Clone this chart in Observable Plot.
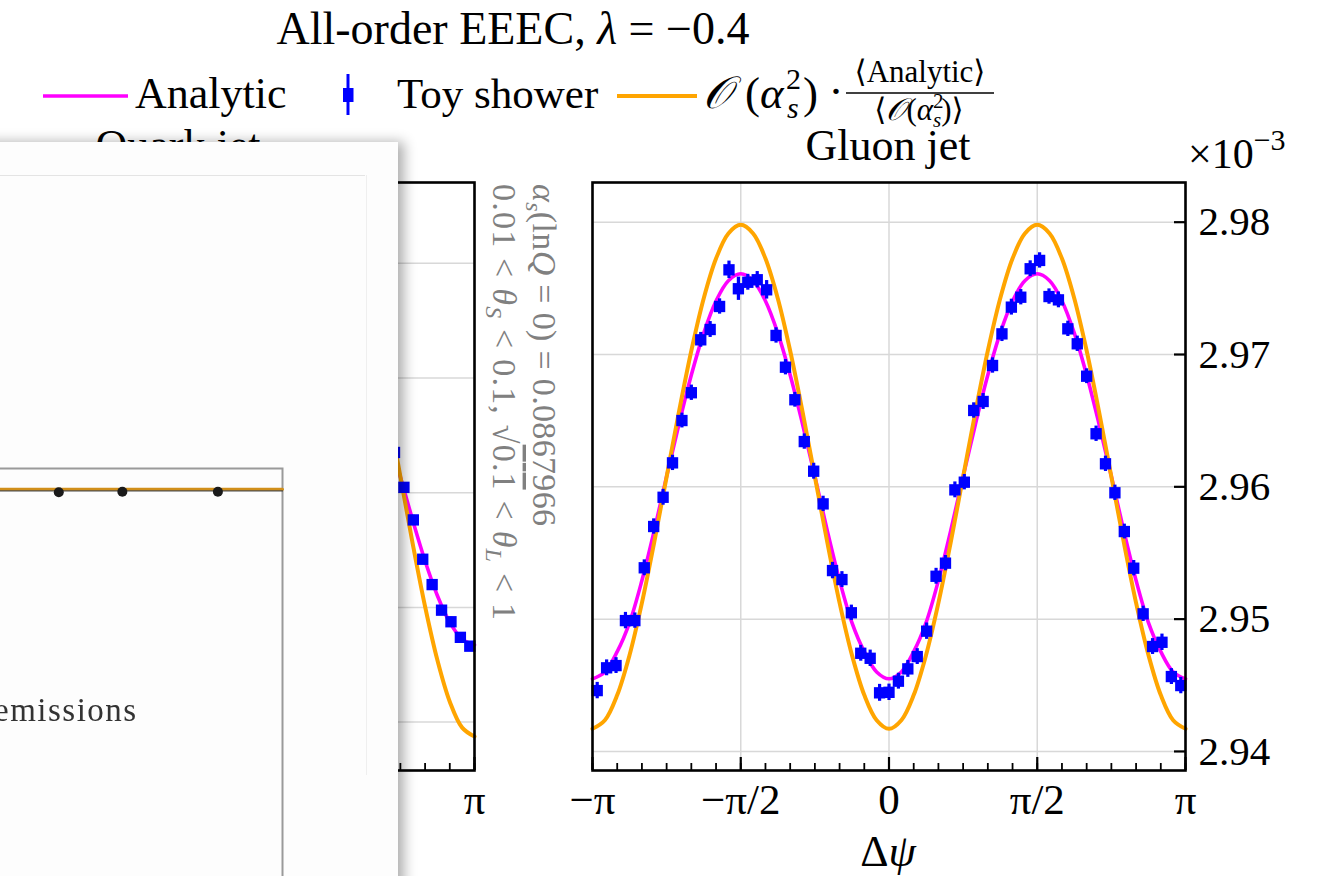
<!DOCTYPE html>
<html>
<head>
<meta charset="utf-8">
<script src="https://cdn.jsdelivr.net/npm/d3@7"></script>
<script src="https://cdn.jsdelivr.net/npm/@observablehq/plot@0.6"></script>
<style>
  html, body { margin: 0; padding: 0; background: #ffffff; }
  #root { position: relative; width: 1331px; height: 876px; overflow: hidden; background: #ffffff; }
  .panel { position: absolute; }
  .panel svg { overflow: visible; }
  #overlay { position: absolute; left: 0; top: 0; font-family: "Liberation Serif", "DejaVu Serif", "Times New Roman", serif; }
  #card { position: absolute; left: -40px; top: 142px; width: 438px; height: 780px;
          background: #fdfdfd; box-shadow: 6px 0 12px rgba(0,0,0,0.32); }
  #cardInner { position: absolute; left: 40px; top: -142px; width: 398px; height: 876px; filter: blur(0.7px); }
</style>
</head>
<body>
<div id="root">
  <div id="quark" class="panel"></div>
  <div id="gluon" class="panel"></div>
  <svg id="overlay" width="1331" height="876" fill="#000"></svg>
  <div id="card"><div id="cardInner"></div></div>
</div>
<script>
const PI = Math.PI;

// Δψ binning of the toy-shower histograms
const nBins = 63;
const binCenter = i => -PI + (i + 0.5) * 2 * PI / nBins;

// Gluon jet, toy shower (units of 1e-3), one value per bin
const gluonToyY = [2.94460, 2.94632, 2.94649, 2.94989, 2.94989, 2.95388, 2.95700, 2.95921, 2.96181, 2.96501,
  2.96711, 2.97111, 2.97189, 2.97363, 2.97640, 2.97497, 2.97546, 2.97565, 2.97489, 2.97144,
  2.96904, 2.96658, 2.96342, 2.96118, 2.95871, 2.95367, 2.95299, 2.95048, 2.94742, 2.94704,
  2.94443, 2.94447, 2.94531, 2.94624, 2.94717, 2.94909, 2.95324, 2.95423, 2.95977, 2.96035,
  2.96577, 2.96645, 2.96917, 2.97156, 2.97358, 2.97433, 2.97648, 2.97711, 2.97438, 2.97413,
  2.97194, 2.97081, 2.96836, 2.96401, 2.96174, 2.95955, 2.95662, 2.95385, 2.95040, 2.94793,
  2.94825, 2.94566, 2.94498];
const gluonToyErr = [0.00062, 0.00060, 0.00060, 0.00062, 0.00058, 0.00060, 0.00058, 0.00060, 0.00058, 0.00056,
  0.00058, 0.00056, 0.00060, 0.00058, 0.00066, 0.00088, 0.00060, 0.00062, 0.00070, 0.00058,
  0.00058, 0.00056, 0.00058, 0.00060, 0.00058, 0.00062, 0.00060, 0.00058, 0.00060, 0.00062,
  0.00064, 0.00062, 0.00060, 0.00064, 0.00060, 0.00062, 0.00060, 0.00058, 0.00060, 0.00058,
  0.00058, 0.00060, 0.00058, 0.00058, 0.00060, 0.00058, 0.00060, 0.00058, 0.00058, 0.00060,
  0.00058, 0.00058, 0.00056, 0.00058, 0.00058, 0.00058, 0.00056, 0.00058, 0.00058, 0.00060,
  0.00062, 0.00060, 0.00062];

// Quark jet, toy shower (units of 1e-3), last bins before Δψ = π
const quarkToyBins = [54, 55, 56, 57, 58, 59, 60, 61, 62];
const quarkToyY = [2.19351, 2.19047, 2.18763, 2.18420, 2.18199, 2.17976, 2.17875, 2.17739, 2.17662];
const quarkToyErr = [0.00040, 0.00040, 0.00040, 0.00040, 0.00040, 0.00040, 0.00040, 0.00040, 0.00040];

// Smooth curves sampled every π/24 from −π to π
const curveSteps = 48;
const gluonAnalytic = [2.94549, 2.94601, 2.94754, 2.94974, 2.95292, 2.95670, 2.96079, 2.96475, 2.96845, 2.97162, 2.97405, 2.97558, 2.97610,
  2.97558, 2.97405, 2.97162, 2.96845, 2.96475, 2.96079, 2.95670, 2.95292, 2.94974, 2.94754, 2.94601, 2.94549,
  2.94601, 2.94754, 2.94974, 2.95292, 2.95670, 2.96079, 2.96475, 2.96845, 2.97162, 2.97405, 2.97558, 2.97610,
  2.97558, 2.97405, 2.97162, 2.96845, 2.96475, 2.96079, 2.95670, 2.95292, 2.94974, 2.94754, 2.94601, 2.94549];
const gluonScaled = [2.94171, 2.94236, 2.94426, 2.94729, 2.95123, 2.95583, 2.96076, 2.96568, 2.97028, 2.97423, 2.97725, 2.97915, 2.97980,
  2.97915, 2.97725, 2.97423, 2.97028, 2.96568, 2.96076, 2.95583, 2.95123, 2.94729, 2.94426, 2.94236, 2.94171,
  2.94236, 2.94426, 2.94729, 2.95123, 2.95583, 2.96076, 2.96568, 2.97028, 2.97423, 2.97725, 2.97915, 2.97980,
  2.97915, 2.97725, 2.97423, 2.97028, 2.96568, 2.96076, 2.95583, 2.95123, 2.94729, 2.94426, 2.94236, 2.94171];
const quarkAnalytic = [2.17673, 2.17723, 2.17869, 2.18102, 2.18405, 2.18759, 2.19138, 2.19517, 2.19870, 2.20174, 2.20406, 2.20553, 2.20602,
  2.20553, 2.20406, 2.20174, 2.19870, 2.19517, 2.19138, 2.18759, 2.18405, 2.18102, 2.17869, 2.17723, 2.17673,
  2.17723, 2.17869, 2.18102, 2.18405, 2.18759, 2.19138, 2.19517, 2.19870, 2.20174, 2.20406, 2.20553, 2.20602,
  2.20553, 2.20406, 2.20174, 2.19870, 2.19517, 2.19138, 2.18759, 2.18405, 2.18102, 2.17869, 2.17723, 2.17673];
const quarkScaled = [2.16874, 2.16952, 2.17178, 2.17539, 2.18008, 2.18555, 2.19141, 2.19728, 2.20275, 2.20744, 2.21105, 2.21330, 2.21408,
  2.21330, 2.21105, 2.20744, 2.20275, 2.19728, 2.19141, 2.18555, 2.18008, 2.17539, 2.17178, 2.16952, 2.16874,
  2.16952, 2.17178, 2.17539, 2.18008, 2.18555, 2.19141, 2.19728, 2.20275, 2.20744, 2.21105, 2.21330, 2.21408,
  2.21330, 2.21105, 2.20744, 2.20275, 2.19728, 2.19141, 2.18555, 2.18008, 2.17539, 2.17178, 2.16952, 2.16874];

// Axis ticks
const xMajorTicks = [-PI, -PI / 2, 0, PI / 2, PI];
const xMajorLabels = ["−π", "−π/2", "0", "π/2", "π"];
const xMinorTicks = d3.range(-12, 13).map(k => k * PI / 12);
const gluonYTicks = [2.94, 2.95, 2.96, 2.97, 2.98];
const quarkYTicks = [2.17, 2.18, 2.19, 2.20, 2.21];
const gluonYDomain = [2.93856, 2.98300];
const quarkYDomain = [2.16578, 2.21705];

// Inset plot on the pop-up card
const insetX = [0.342, 0.529, 0.810];
const insetY = [0.993, 0.994, 0.994];
const insetLineX = [0.0, 1.0];
const insetLineY = [1.0, 1.0];

const MAGENTA = "#ff00ff", ORANGE = "#ffa500", BLUE = "#0000ff";
const FONT = "'Liberation Serif', 'DejaVu Serif', 'Times New Roman', serif";

function curveRows(values) {
  return values.map((v, j) => ({phi: -PI + j * 2 * PI / curveSteps, v}));
}

function panel({toy, analytic, scaled, yDomain, yTicks, side}) {
  const left = side === "left";
  const mL = left ? 130 : 2, mR = left ? 2 : 130;
  const W = 593, H = 588;
  return Plot.plot({
    width: mL + W + mR, height: 2 + H + 80,
    marginLeft: mL, marginRight: mR, marginTop: 2, marginBottom: 80,
    x: {domain: [-PI, PI]},
    y: {domain: yDomain},
    style: {fontFamily: FONT, fontSize: "41px", color: "#000", background: "transparent", overflow: "visible"},
    marks: [
      Plot.gridX(xMajorTicks, {stroke: "#d8d8d8", strokeOpacity: 1, strokeWidth: 1.5}),
      Plot.gridY(yTicks, {stroke: "#d8d8d8", strokeOpacity: 1, strokeWidth: 1.5}),
      Plot.line(curveRows(analytic), {x: "phi", y: "v", stroke: MAGENTA, strokeWidth: 3.6, curve: "catmull-rom"}),
      Plot.line(curveRows(scaled), {x: "phi", y: "v", stroke: ORANGE, strokeWidth: 4, curve: "catmull-rom"}),
      Plot.ruleX(toy, {x: "phi", y1: d => d.v - d.e, y2: d => d.v + d.e, stroke: BLUE, strokeWidth: 3.2}),
      Plot.dot(toy, {x: "phi", y: "v", symbol: "square", r: 6.4, fill: BLUE, stroke: "none"}),
      Plot.axisX(xMinorTicks, {tickSize: 7, dy: -7, tickFormat: () => "", label: null, strokeWidth: 1.8}),
      Plot.axisX(xMajorTicks, {tickSize: 13, dy: -13, tickFormat: () => "", label: null, strokeWidth: 2.2}),
      Plot.axisX(xMajorTicks, {tickSize: 0, tickPadding: 13, label: null, fontSize: 43,
        tickFormat: d => xMajorLabels[Math.round(d / (PI / 2)) + 2]}),
      Plot.axisY(yTicks, {anchor: left ? "left" : "right", tickSize: 12, dx: left ? 12 : -12,
        tickFormat: () => "", label: null, strokeWidth: 2.2}),
      Plot.axisY(yTicks, {anchor: left ? "left" : "right", tickSize: 0, tickPadding: 13, label: null, fontSize: 41,
        tickFormat: d => d.toFixed(2)}),
      Plot.frame({stroke: "#000", strokeWidth: 2.6})
    ]
  });
}

const gluonToy = gluonToyY.map((v, i) => ({phi: binCenter(i), v, e: gluonToyErr[i]}));
const quarkToy = quarkToyY.map((v, i) => ({phi: binCenter(quarkToyBins[i]), v, e: quarkToyErr[i]}));

const gEl = document.getElementById("gluon");
gEl.style.left = "590px"; gEl.style.top = "180px";
gEl.appendChild(panel({toy: gluonToy, analytic: gluonAnalytic, scaled: gluonScaled,
  yDomain: gluonYDomain, yTicks: gluonYTicks, side: "right"}));

const qEl = document.getElementById("quark");
qEl.style.left = (-118.7 - 130) + "px"; qEl.style.top = "180px";
qEl.appendChild(panel({toy: quarkToy, analytic: quarkAnalytic, scaled: quarkScaled,
  yDomain: quarkYDomain, yTicks: quarkYTicks, side: "left"}));

// Titles, legend and annotations
const ov = document.getElementById("overlay");
ov.innerHTML = `
  <text x="513" y="44" font-size="46" text-anchor="middle">All-order EEEC, <tspan font-style="italic">λ</tspan> = −0.4</text>

  <line x1="43" x2="128" y1="96" y2="96" stroke="${MAGENTA}" stroke-width="3.6"/>
  <text x="135" y="108" font-size="44">Analytic</text>

  <line x1="348" x2="348" y1="74" y2="115" stroke="${BLUE}" stroke-width="3"/>
  <rect x="343" y="88" width="10.5" height="14" fill="${BLUE}"/>
  <text x="397" y="108" font-size="43">Toy shower</text>

  <line x1="617" x2="697" y1="96" y2="96" stroke="${ORANGE}" stroke-width="4"/>
  <g font-size="45">
    <text x="703" y="108" font-style="italic">𝒪</text>
    <text x="745" y="108">(</text>
    <text x="760" y="108" font-style="italic">α</text>
    <text x="786" y="89" font-size="30">2</text>
    <text x="787" y="118" font-size="30" font-style="italic">s</text>
    <text x="803" y="108">)</text>
    <text x="836" y="106" text-anchor="middle">·</text>
  </g>
  <text x="920" y="82" font-size="31" text-anchor="middle">⟨Analytic⟩</text>
  <line x1="846" x2="994" y1="93" y2="93" stroke="#000" stroke-width="1.6"/>
  <text x="919" y="120" font-size="31" text-anchor="middle">⟨<tspan font-style="italic">𝒪</tspan>(<tspan font-style="italic">α</tspan><tspan dy="-12" font-size="21">2</tspan><tspan dx="-10.5" dy="19" font-size="21" font-style="italic">s</tspan><tspan dy="-7">)⟩</tspan></text>

  <text x="178" y="160" font-size="44" text-anchor="middle">Quark jet</text>
  <text x="888" y="160" font-size="44" text-anchor="middle">Gluon jet</text>
  <text x="1188" y="168" font-size="42">×10<tspan dy="-18" font-size="30">−3</tspan></text>

  <text x="888" y="866" font-size="44" text-anchor="middle">Δ<tspan font-style="italic">ψ</tspan></text>

  <g fill="#808080" font-size="34">
    <text transform="translate(533,184) rotate(90)" textLength="342" lengthAdjust="spacing"><tspan font-style="italic">α</tspan><tspan dy="7" font-size="24" font-style="italic">s</tspan><tspan dy="-7">(ln</tspan><tspan font-style="italic">Q</tspan> = 0) = 0.0867966</text>
    <text transform="translate(493,184) rotate(90)" textLength="436" lengthAdjust="spacing">0.01 &lt; <tspan font-style="italic">θ</tspan><tspan dy="7" font-size="24" font-style="italic">S</tspan><tspan dy="-7"> &lt; 0.1, √</tspan><tspan text-decoration="overline">0.1</tspan> &lt; <tspan font-style="italic">θ</tspan><tspan dy="7" font-size="24" font-style="italic">L</tspan><tspan dy="-7"> &lt; 1</tspan></text>
  </g>
`;

// Pop-up card covering the quark panel: header rule, faint border, small inset plot and caption
const cardInner = document.getElementById("cardInner");
cardInner.innerHTML = `
  <div style="position:absolute;left:0;top:175px;width:365px;height:1px;background:#e4e4e4"></div>
  <div style="position:absolute;left:366px;top:175px;width:1px;height:600px;background:#efefef"></div>
  <div style="position:absolute;left:-6px;top:692px;font-size:33px;font-family:${FONT};color:#333;letter-spacing:1.5px">emissions</div>
  <div id="inset" style="position:absolute;left:-60px;top:466px"></div>
`;
document.getElementById("inset").appendChild(Plot.plot({
  width: 344, height: 440, marginLeft: 2, marginRight: 2, marginTop: 2, marginBottom: 2,
  x: {domain: [0, 1], axis: null}, y: {domain: [0, 1.05], axis: null},
  style: {background: "transparent"},
  marks: [
    Plot.frame({stroke: "#9a9a9a", strokeWidth: 2}),
    Plot.line(insetLineX.map((x, i) => ({x, y: insetLineY[i]})), {x: "x", y: "y", stroke: "#d18f1a", strokeWidth: 3}),
    Plot.line(insetLineX.map((x, i) => ({x, y: insetLineY[i] - 0.004})), {x: "x", y: "y", stroke: "#2a2a2a", strokeWidth: 1}),
    Plot.dot(insetX.map((x, i) => ({x, y: insetY[i]})), {x: "x", y: "y", r: 5, fill: "#1a1a1a"})
  ]
}));
</script>
</body>
</html>
